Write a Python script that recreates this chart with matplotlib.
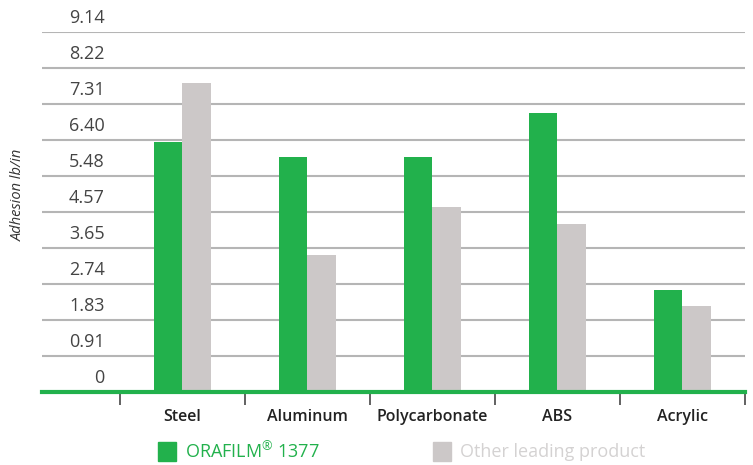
import matplotlib.pyplot as plt
from matplotlib.patches import Rectangle
from matplotlib.transforms import blended_transform_factory
import numpy as np

plt.rcParams['font.family'] = ['Open Sans', 'DejaVu Sans']
plt.rcParams['mathtext.fontset'] = 'custom'
plt.rcParams['mathtext.rm'] = 'Open Sans'

# data
categories = ['Steel', 'Aluminum', 'Polycarbonate', 'ABS', 'Acrylic']
orafilm = [6.35, 5.96, 5.96, 7.08, 2.59]
other = [7.84, 3.48, 4.70, 4.26, 2.18]
ytick_values = [0, 0.91, 1.83, 2.74, 3.65, 4.57, 5.48, 6.40, 7.31, 8.22, 9.14]
ytick_labels = ['0', '0.91', '1.83', '2.74', '3.65', '4.57', '5.48', '6.40', '7.31', '8.22', '9.14']
series_names = [r'ORAFILM$^{\mathrm{®}}$ 1377', 'Other leading product']

green = '#22b14c'
grey = '#ccc8c8'

fig = plt.figure(figsize=(7.53, 4.65), dpi=100)
ax = fig.add_axes([42/753, 73/465, 703/753, 360/465])

x = np.arange(len(categories))
w = 0.228
ax.bar(x - w/2, orafilm, w, color=green, zorder=3)
ax.bar(x + w/2, other, w, color=grey, zorder=3)

ax.set_xlim(-1.124, 4.5)
ax.set_ylim(0, 9.14)

# horizontal grid lines
for v in ytick_values[1:]:
    ax.axhline(v, color='#b5b5b5', lw=1.5, zorder=1)
ax.axhline(0, color=green, lw=3, zorder=4, clip_on=False)

# y labels sit above their grid line
tr = blended_transform_factory(ax.transAxes, ax.transData)
for v, lab in zip(ytick_values, ytick_labels):
    ax.annotate(lab, xy=(109/753 - 42/753, v), xycoords=tr, xytext=(0, 3.5),
                textcoords='offset points', ha='right', va='bottom',
                fontsize=13, color='#444444')

for s in ax.spines.values():
    s.set_visible(False)
ax.set_yticks([])
ax.set_xticks(x)
ax.set_xticklabels(categories, fontsize=11.5, fontweight='semibold', color='#222222')
ax.tick_params(axis='x', which='major', length=0, pad=12)
ax.set_xticks(np.arange(len(categories) + 1) - 0.5, minor=True)
ax.tick_params(axis='x', which='minor', length=9, width=1.3, color='#555555')

fig.text(18/753, 1 - 195/465, 'Adhesion lb/in', rotation=90, style='italic',
         fontsize=10.5, color='#333333', ha='center', va='center')

# legend
fig.patches.append(Rectangle((158/753, 1 - 461/465), 18/753, 19/465,
                             transform=fig.transFigure, color=green))
fig.text(185/753, 1 - 452/465, series_names[0], fontsize=13, color=green, va='center')
fig.patches.append(Rectangle((433/753, 1 - 461/465), 18/753, 19/465,
                             transform=fig.transFigure, color=grey))
fig.text(460/753, 1 - 452/465, series_names[1], fontsize=13, color='#d4d2d2', va='center')

fig.savefig('out.png', dpi=100)
